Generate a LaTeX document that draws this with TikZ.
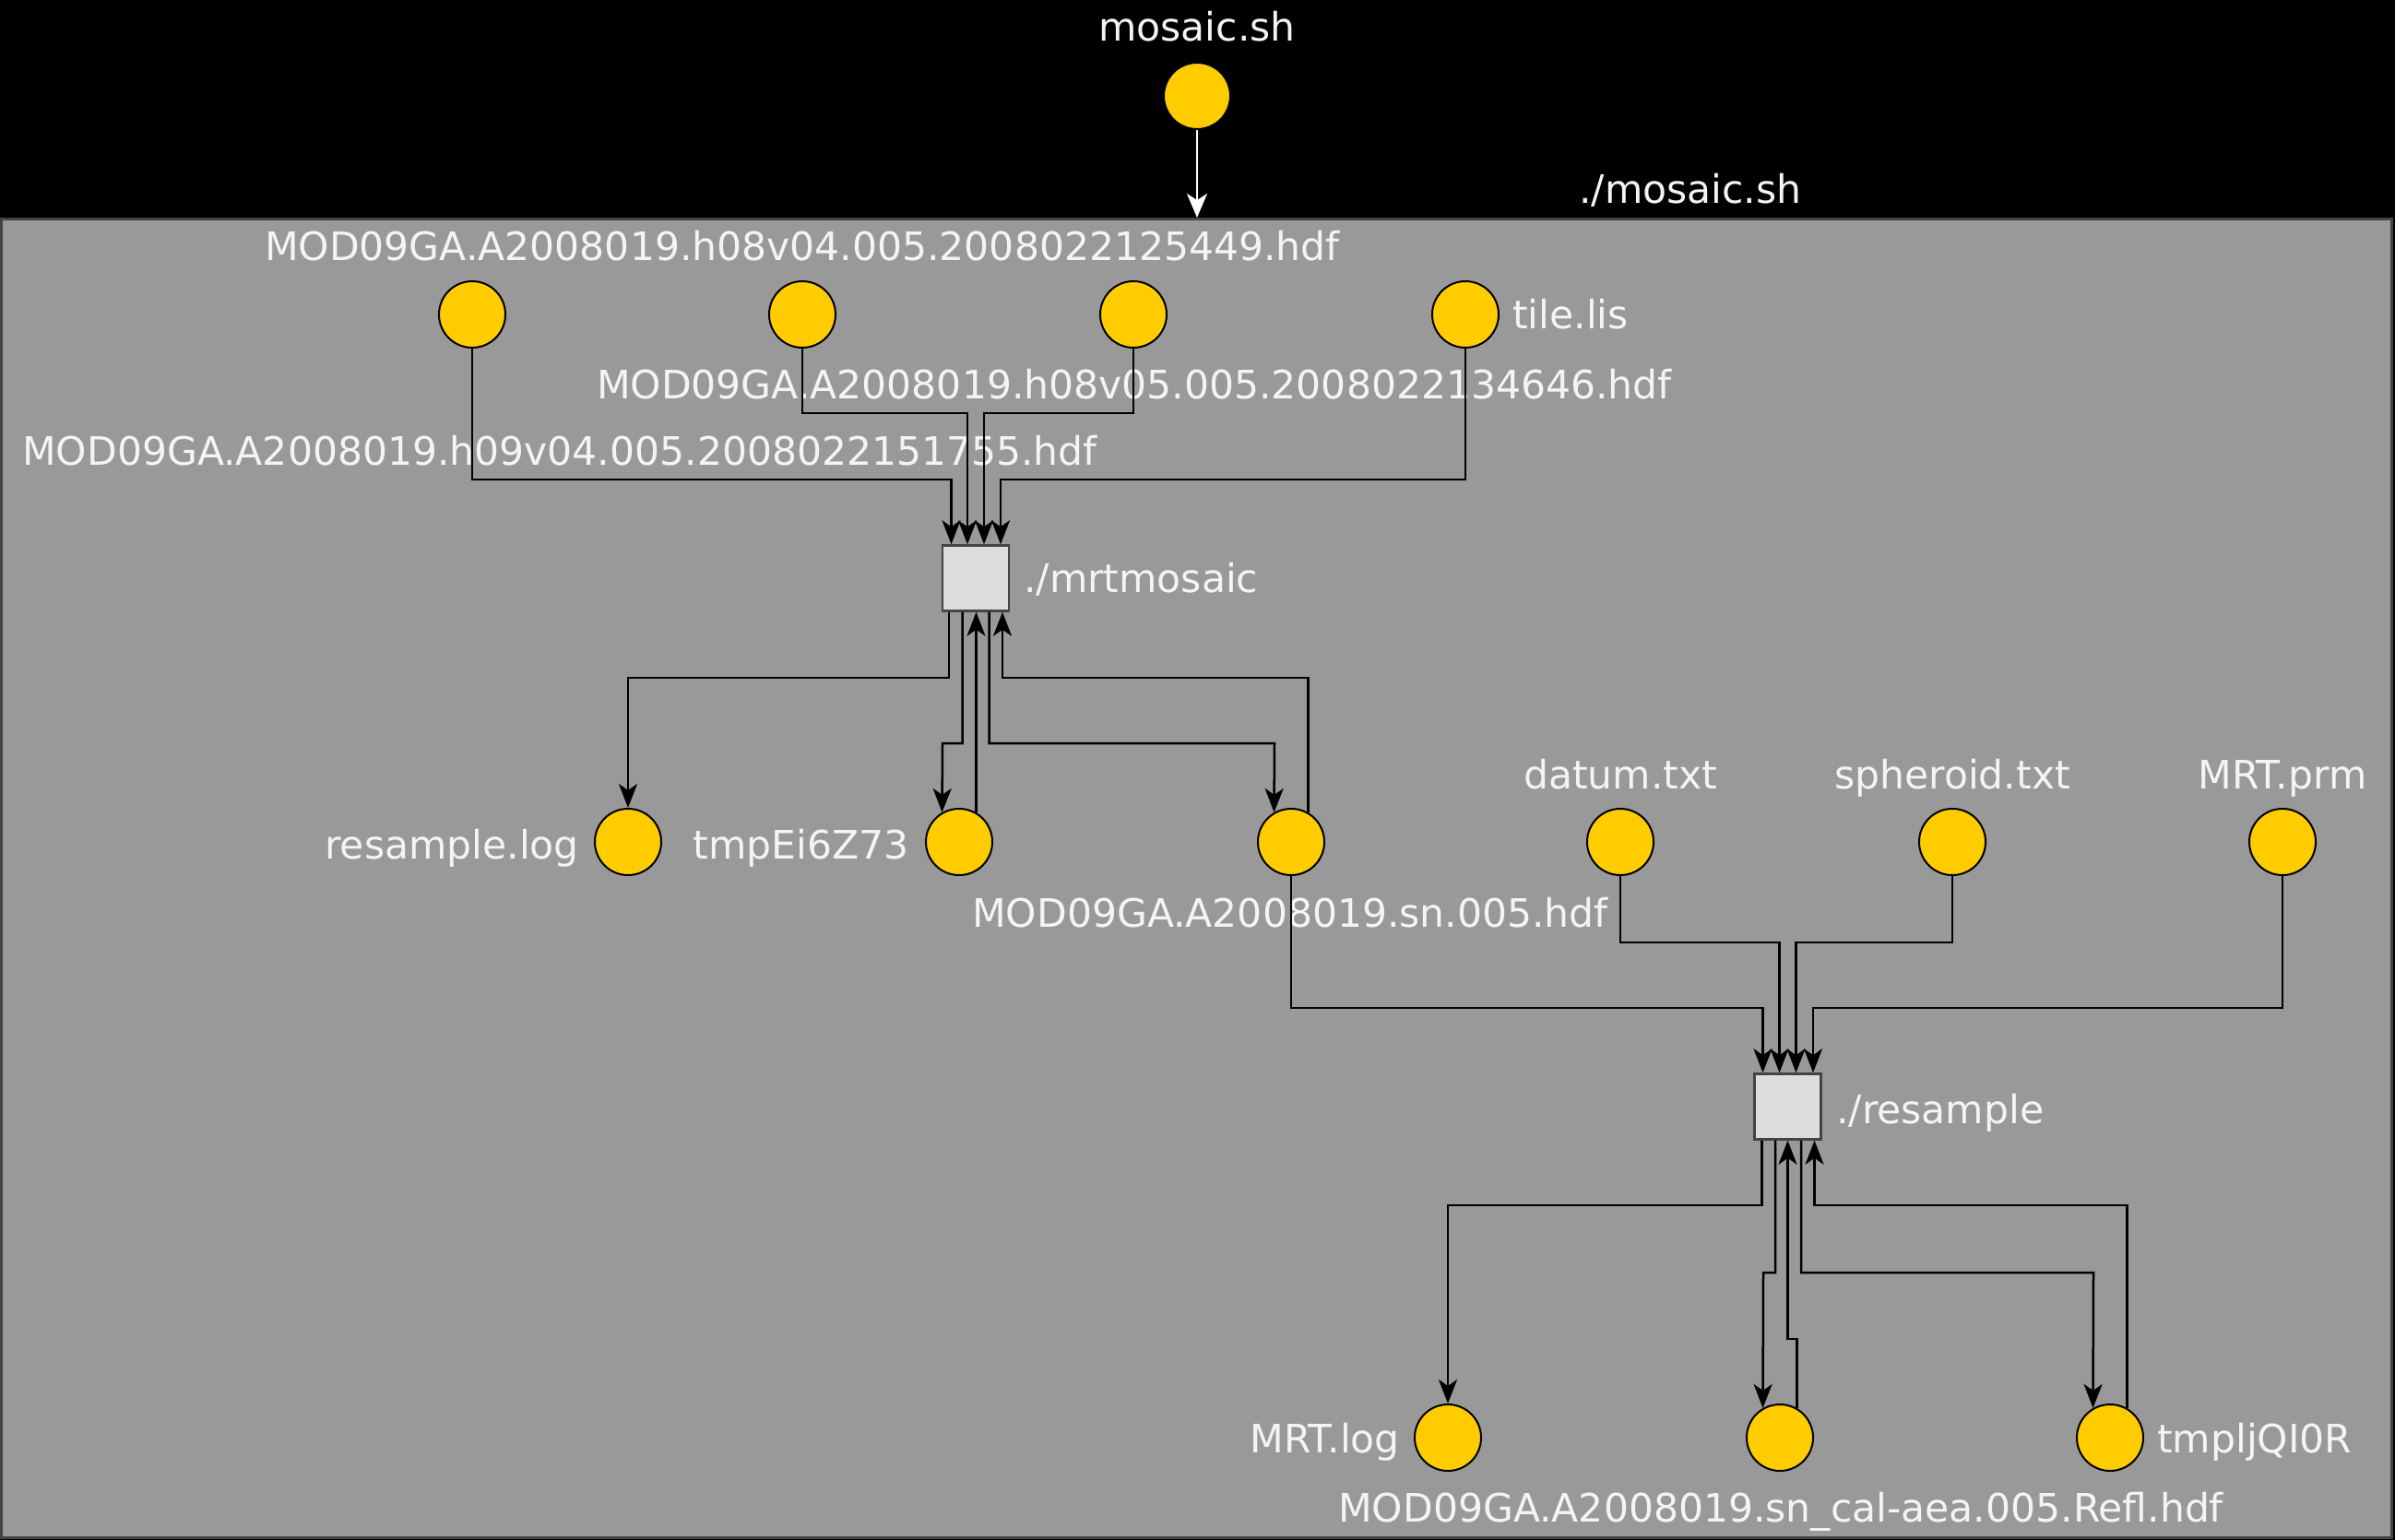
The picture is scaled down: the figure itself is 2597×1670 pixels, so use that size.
\documentclass[tikz,border=0pt]{standalone}
\usepackage{fontspec}
\setmainfont{DejaVu Sans}
\usetikzlibrary{arrows.meta}
\definecolor{filegold}{HTML}{FFCC00}
\definecolor{clustergray}{HTML}{999999}
\definecolor{clusterborder}{HTML}{444444}
\definecolor{boxfill}{HTML}{DDDDDD}
\definecolor{boxborder}{HTML}{444444}
\definecolor{labelwhite}{HTML}{F4F4F4}
\tikzset{
  filenode/.style={circle, minimum size=72pt, inner sep=0pt, fill=filegold, draw=black, line width=2pt},
  procnode/.style={rectangle, minimum width=72pt, minimum height=71pt, inner sep=0pt, fill=boxfill, draw=boxborder, line width=2.5pt},
  lbl/.style={text=labelwhite, inner sep=0pt, font=\fontsize{42.5}{50}\selectfont},
  arr/.style={draw=black, line width=2.5pt, -{Stealth[length=26pt,width=20pt,inset=7pt]}},
  warr/.style={draw=white, line width=2.5pt, -{Stealth[length=26pt,width=22pt,inset=7pt]}}
}
\begin{document}
\begin{tikzpicture}[x=1pt, y=-1pt]
\useasboundingbox (0,0) rectangle (2597,1670);
\fill[black] (0,0) rectangle (2597,1670);
% cluster
\draw[fill=clustergray, draw=clusterborder, line width=3pt] (1.5,237) rectangle (2593,1667);
\node[lbl, anchor=base west] (clusterlbl) at (1712,220) {./mosaic.sh};
\coordinate (clustertop) at (1298,236);

% top script
\node[filenode] (ms) at (1298,104) {};
\node[lbl, anchor=base] (mslbl) at (1298,45) {mosaic.sh};
\draw[warr] (ms.south) -- (clustertop);

% input files of mrtmosaic
\node[filenode] (c1) at (512,341) {};
\node[filenode] (c2) at (870,341) {};
\node[filenode] (c3) at (1229,341) {};
\node[filenode] (tl) at (1589,341) {};
\node[lbl, anchor=base] (c1lbl) at (870,282) {MOD09GA.A2008019.h08v04.005.2008022125449.hdf};
\node[lbl, anchor=base] (c2lbl) at (1230,432) {MOD09GA.A2008019.h08v05.005.2008022134646.hdf};
\node[lbl, anchor=base west] (c3lbl) at (24,504) {MOD09GA.A2008019.h09v04.005.2008022151755.hdf};
\node[lbl, anchor=base west] (tllbl) at (1640,356) {tile.lis};

% mrtmosaic
\node[procnode] (mm) at (1058,627) {};
\node[lbl, anchor=base west] (mmlbl) at (1110,642) {./mrtmosaic};

% outputs of mrtmosaic
\node[filenode] (rl) at (681,913) {};
\node[filenode] (te) at (1040,913) {};
\node[filenode] (sn) at (1400,913) {};
\node[lbl, anchor=base east] (rllbl) at (628,931) {resample.log};
\node[lbl, anchor=base east] (telbl) at (986,931) {tmpEi6Z73};
\node[lbl, anchor=base] (snlbl) at (1399,1005) {MOD09GA.A2008019.sn.005.hdf};

% other resample inputs
\node[filenode] (da) at (1757,913) {};
\node[filenode] (sp) at (2117,913) {};
\node[filenode] (mp) at (2475,913) {};
\node[lbl, anchor=base] (dalbl) at (1757,855) {datum.txt};
\node[lbl, anchor=base] (splbl) at (2117,855) {spheroid.txt};
\node[lbl, anchor=base] (mplbl) at (2475,855) {MRT.prm};

% resample
\node[procnode] (rs) at (1938.5,1200) {};
\node[lbl, anchor=base west] (rslbl) at (1991,1218) {./resample};

% outputs of resample
\node[filenode] (ml) at (1570,1559) {};
\node[filenode] (sc) at (1930,1559) {};
\node[filenode] (tq) at (2288,1559) {};
\node[lbl, anchor=base east] (mllbl) at (1518,1575) {MRT.log};
\node[lbl, anchor=base west] (sclbl) at (1451,1650) {MOD09GA.A2008019.sn\_cal-aea.005.Refl.hdf};
\node[lbl, anchor=base west] (tqlbl) at (2339,1575) {tmpljQI0R};

% connectors into mrtmosaic
\draw[arr] (c1.south) |- (1031.5,520) -- ([xshift=-26.5pt]mm.north);
\draw[arr] (c2.south) |- (1049,448) -- ([xshift=-9pt]mm.north);
\draw[arr] (c3.south) |- (1067,448) -- ([xshift=9pt]mm.north);
\draw[arr] (tl.south) |- (1085,520) -- ([xshift=27pt]mm.north);

% connectors out of / back into mrtmosaic
\draw[arr] ([xshift=-29pt]mm.south) |- (681,735) -- (rl.north);
\draw[arr] ([xshift=-14.5pt]mm.south) |- (1022,806) -- (te.120);
\draw[arr] (te.60) -- (te.60 |- mm.south);
\draw[arr] ([xshift=14.5pt]mm.south) |- (1382,806) -- (sn.120);
\draw[arr] (sn.60) |- (1087,735) -- ([xshift=29pt]mm.south);

% connectors into resample
\draw[arr] (sn.south) |- (1911.5,1093) -- ([xshift=-27pt]rs.north);
\draw[arr] (da.south) |- (1929.5,1022) -- ([xshift=-9pt]rs.north);
\draw[arr] (sp.south) |- (1947.5,1022) -- ([xshift=9pt]rs.north);
\draw[arr] (mp.south) |- (1966,1093) -- ([xshift=27.5pt]rs.north);

% connectors out of / back into resample
\draw[arr] ([xshift=-28pt]rs.south) |- (1570,1307) -- (ml.north);
\draw[arr] ([xshift=-13.5pt]rs.south) |- (1912,1380) -- (sc.120);
\draw[arr] (sc.60) |- (1938.5,1452) -- (rs.south);
\draw[arr] ([xshift=14.5pt]rs.south) |- (2270,1380) -- (tq.120);
\draw[arr] (tq.60) |- (1967.5,1307) -- ([xshift=29pt]rs.south);
\end{tikzpicture}
\end{document}
